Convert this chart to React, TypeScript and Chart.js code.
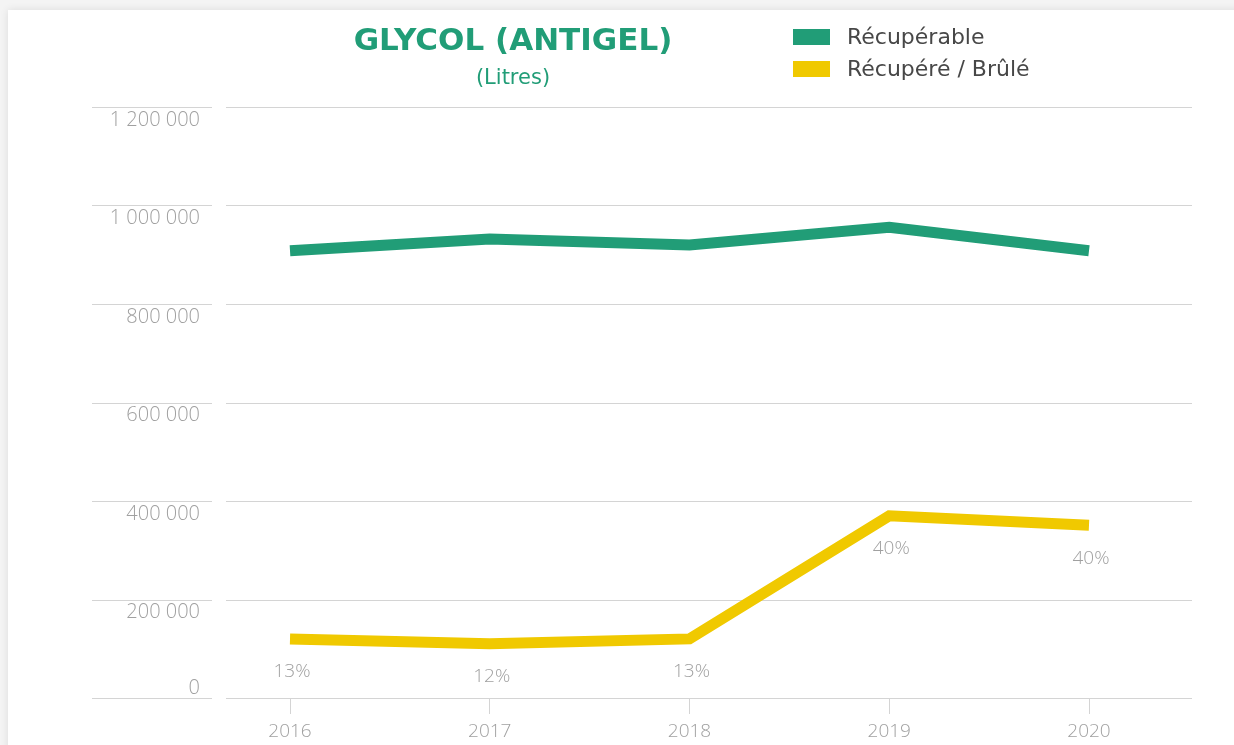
import React, { useEffect, useRef } from "react";
import { Chart, registerables } from "chart.js";

Chart.register(...registerables);

const years = ["2016", "2017", "2018", "2019", "2020"];
const recuperable = [908000, 932000, 920000, 956000, 908000];
const recupereBrule = [120000, 110000, 120000, 370000, 351000];
const pctLabels = ["13%", "12%", "13%", "40%", "40%"];
const seriesNames = ["Récupérable", "Récupéré / Brûlé"];
const titleText = "GLYCOL (ANTIGEL)";
const subtitleText = "(Litres)";

const GREEN = "#219d77";
const YELLOW = "#f0c900";
const GRID = "#d4d4d4";
const TICK_TEXT = "#a0a0a0";
const LIGHT_FONT = "'Open Sans', sans-serif";

const fmt = (v: number) => {
  const s = Math.round(v).toString();
  return s.replace(/\B(?=(\d{3})+(?!\d))/g, " ");
};

const gridPlugin = {
  id: "splitGrid",
  beforeDatasetsDraw(chart: any) {
    const { ctx, chartArea, scales } = chart;
    const y = scales.y;
    ctx.save();
    ctx.strokeStyle = GRID;
    ctx.lineWidth = 1;
    y.ticks.forEach((t: any) => {
      const py = Math.round(y.getPixelForValue(t.value)) + 0.5;
      ctx.beginPath();
      ctx.moveTo(chartArea.left - 198, py);
      ctx.lineTo(chartArea.left - 78, py);
      ctx.moveTo(chartArea.left - 64, py);
      ctx.lineTo(chartArea.right + 103, py);
      ctx.stroke();
    });
    ctx.restore();
  },
};

// The "0" label sits above its gridline in the reference, while others sit below.
const zeroLabelPlugin = {
  id: "zeroLabel",
  beforeDraw(chart: any) {
    const y = chart.scales.y;
    if (!y || !y.getLabelItems) return;
    const items = y.getLabelItems(chart.chartArea);
    items.forEach((it: any) => {
      if (it.label === "0" && !it._moved && it.options && it.options.translation) {
        it.options.translation[1] -= 23;
        it._moved = true;
      }
    });
  },
};

const decorPlugin = {
  id: "decor",
  afterDatasetsDraw(chart: any) {
    const { ctx } = chart;
    ctx.save();
    // Title
    ctx.fillStyle = GREEN;
    ctx.textAlign = "center";
    ctx.textBaseline = "alphabetic";
    ctx.font = "bold 31px 'DejaVu Sans', sans-serif";
    ctx.fillText(titleText, 513, 50);
    ctx.font = "400 21px 'DejaVu Sans', sans-serif";
    ctx.fillText(subtitleText, 513, 84);

    // Legend
    chart.data.datasets.forEach((ds: any, i: number) => {
      const top = 29 + i * 32;
      ctx.fillStyle = ds.borderColor;
      ctx.fillRect(793, top, 37, 16);
      ctx.fillStyle = "#474747";
      ctx.textAlign = "left";
      ctx.textBaseline = "middle";
      ctx.font = "400 22px 'DejaVu Sans', sans-serif";
      ctx.fillText(ds.label, 847, top + 9);
    });

    // Percentage labels under second series
    const meta = chart.getDatasetMeta(1);
    ctx.fillStyle = TICK_TEXT;
    ctx.textAlign = "center";
    ctx.textBaseline = "middle";
    ctx.font = `300 19px ${LIGHT_FONT}`;
    meta.data.forEach((pt: any, i: number) => {
      ctx.fillText(pctLabels[i], pt.x + 2, pt.y + 33);
    });
    ctx.restore();
  },
};

export default function App() {
  const ref = useRef<HTMLCanvasElement | null>(null);

  useEffect(() => {
    if (!ref.current) return;
    const chart = new Chart(ref.current, {
      type: "line",
      data: {
        labels: years,
        datasets: [
          {
            label: seriesNames[0],
            data: recuperable,
            borderColor: GREEN,
            backgroundColor: GREEN,
            borderWidth: 11,
            pointRadius: 0,
            tension: 0,
            borderCapStyle: "butt",
            borderJoinStyle: "miter",
          },
          {
            label: seriesNames[1],
            data: recupereBrule,
            borderColor: YELLOW,
            backgroundColor: YELLOW,
            borderWidth: 11,
            pointRadius: 0,
            tension: 0,
            borderCapStyle: "butt",
            borderJoinStyle: "miter",
          },
        ],
      },
      options: {
        responsive: false,
        animation: false,
        layout: { padding: { left: 0, right: 145, top: 107, bottom: 0 } },
        plugins: {
          legend: { display: false },
          title: { display: false },
          tooltip: { enabled: false },
        },
        scales: {
          x: {
            offset: false,
            grid: {
              display: true,
              drawOnChartArea: false,
              drawTicks: true,
              tickLength: 16,
              color: GRID,
            },
            border: { display: false },
            ticks: {
              color: TICK_TEXT,
              padding: 6,
              font: { family: LIGHT_FONT, size: 19, weight: "300" as any },
            },
            afterFit: (s: any) => {
              s.height = 47;
              s.paddingLeft = 0;
              s.paddingRight = 0;
            },
          },
          y: {
            min: 0,
            max: 1200000,
            grid: { display: false, drawTicks: false },
            border: { display: false },
            ticks: {
              stepSize: 200000,
              color: TICK_TEXT,
              padding: 90,
              labelOffset: 13,
              font: { family: LIGHT_FONT, size: 20, weight: "300" as any },
              callback: (v: any) => fmt(Number(v)),
            },
            afterFit: (s: any) => {
              s.width = 290;
              s.paddingTop = 0;
              s.paddingBottom = 0;
            },
          },
        },
      },
      plugins: [gridPlugin, zeroLabelPlugin, decorPlugin],
    });
    return () => chart.destroy();
  }, []);

  return (
    <div
      style={{
        position: "fixed",
        left: 0,
        top: 0,
        width: 1234,
        height: 745,
        overflow: "hidden",
        background: "#f4f4f4",
      }}
    >
      <div
        style={{
          position: "absolute",
          left: 8,
          top: 10,
          width: 1260,
          height: 800,
          background: "#ffffff",
          boxShadow: "0 0 8px rgba(0,0,0,0.10)",
        }}
      />
      <canvas
        ref={ref}
        width={1234}
        height={745}
        style={{ position: "absolute", left: 0, top: 0 }}
      />
    </div>
  );
}
